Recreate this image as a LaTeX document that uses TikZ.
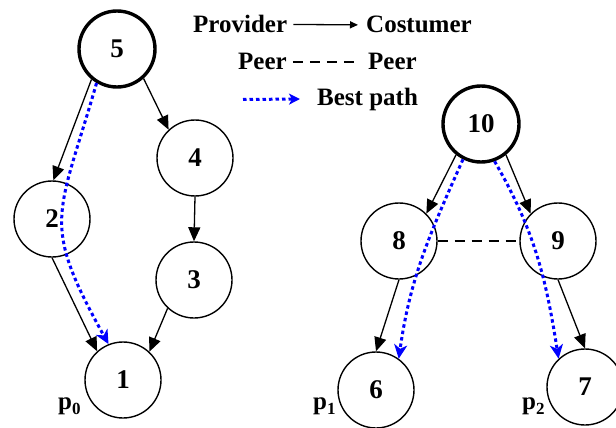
\documentclass[tikz,border=0pt]{standalone}
\usepackage{fontspec}
\setmainfont{Liberation Serif}
\usetikzlibrary{arrows.meta}
\begin{document}
\begin{tikzpicture}[x=1pt,y=1pt,
  as/.style={circle,draw,line width=1.4pt,minimum size=76pt,inner sep=0pt,
    font=\fontsize{27}{30}\selectfont\bfseries},
  asroot/.style={as,line width=3.4pt},
  pc/.style={line width=1.3pt,-{Triangle[length=14pt,width=12pt]}},
  legpc/.style={line width=1.3pt,-{Triangle[length=8pt,width=7pt]}},
  peer/.style={line width=1.3pt,dash pattern=on 10pt off 7pt},
  best/.style={blue,line width=3pt,dash pattern=on 3.5pt off 3pt,
    -{Stealth[length=14pt,width=13pt,inset=4pt]}},
  legbest/.style={best,-{Stealth[length=11pt,width=11pt,inset=3pt]}},
  lbl/.style={font=\fontsize{25}{28}\selectfont\bfseries,inner sep=0pt,anchor=base west}]
\useasboundingbox (0,0) rectangle (616,-428);
% legend
\node[lbl] (prov) at (193,-33) {Provider};
\node[lbl] (cost) at (366,-33) {Costumer};
\draw[legpc] ([xshift=6pt]prov.east) -- ([xshift=-8pt]cost.west);
\node[lbl] (peerA) at (238,-70) {Peer};
\node[lbl] (peerB) at (368,-70) {Peer};
\draw[peer] ([xshift=6pt]peerA.east) -- ([xshift=-10pt]peerB.west);
\node[lbl] (bp) at (317,-105) {Best path};
\coordinate (bpstart) at (243,-99.5);
\draw[legbest] (bpstart) -- ([xshift=-17pt]bp.west);
% left tree
\node[asroot] (n5) at (117,-49) {5};
\node[as] (n4) at (195,-158) {4};
\node[as] (n2) at (52,-219) {2};
\node[as] (n3) at (194,-280) {3};
\node[as] (n1) at (123,-380) {1};
\draw[pc] (n5.230) -- (n2.88);
\draw[pc] (n5.-48) -- (n4.133);
\draw[pc] (n4.south) -- (n3.north);
\draw[pc] (n3.227) -- (n1.47);
\draw[pc] (n2.south) -- (n1.132);
\draw[best] (n5.239) to[out=254,in=119,looseness=1.38] (n1.112);
\node[lbl] (p0) at (58,-409) {p\raisebox{-5pt}{\fontsize{17}{17}\selectfont 0}};
% right tree
\node[asroot] (n10) at (481,-124) {10};
\node[as] (n8) at (399,-241) {8};
\node[as] (n9) at (558,-241) {9};
\node[as] (n6) at (376,-390) {6};
\node[as] (n7) at (585,-387) {7};
\draw[pc] (n10.231) -- (n8.45);
\draw[pc] (n10.309) -- (n9.135);
\draw[peer] (n8.east) -- (n9.west);
\draw[pc] (n8.south) -- (n6.north);
\draw[pc] (n9.south) -- (n7.north);
\draw[best] (n10.243) to[out=246,in=82] (n6.54);
\draw[best] (n10.290) to[out=300,in=99] (n7.133);
\node[lbl] (p1) at (313,-409) {p\raisebox{-5pt}{\fontsize{17}{17}\selectfont 1}};
\node[lbl] (p2) at (522,-409) {p\raisebox{-5pt}{\fontsize{17}{17}\selectfont 2}};
\end{tikzpicture}
\end{document}
